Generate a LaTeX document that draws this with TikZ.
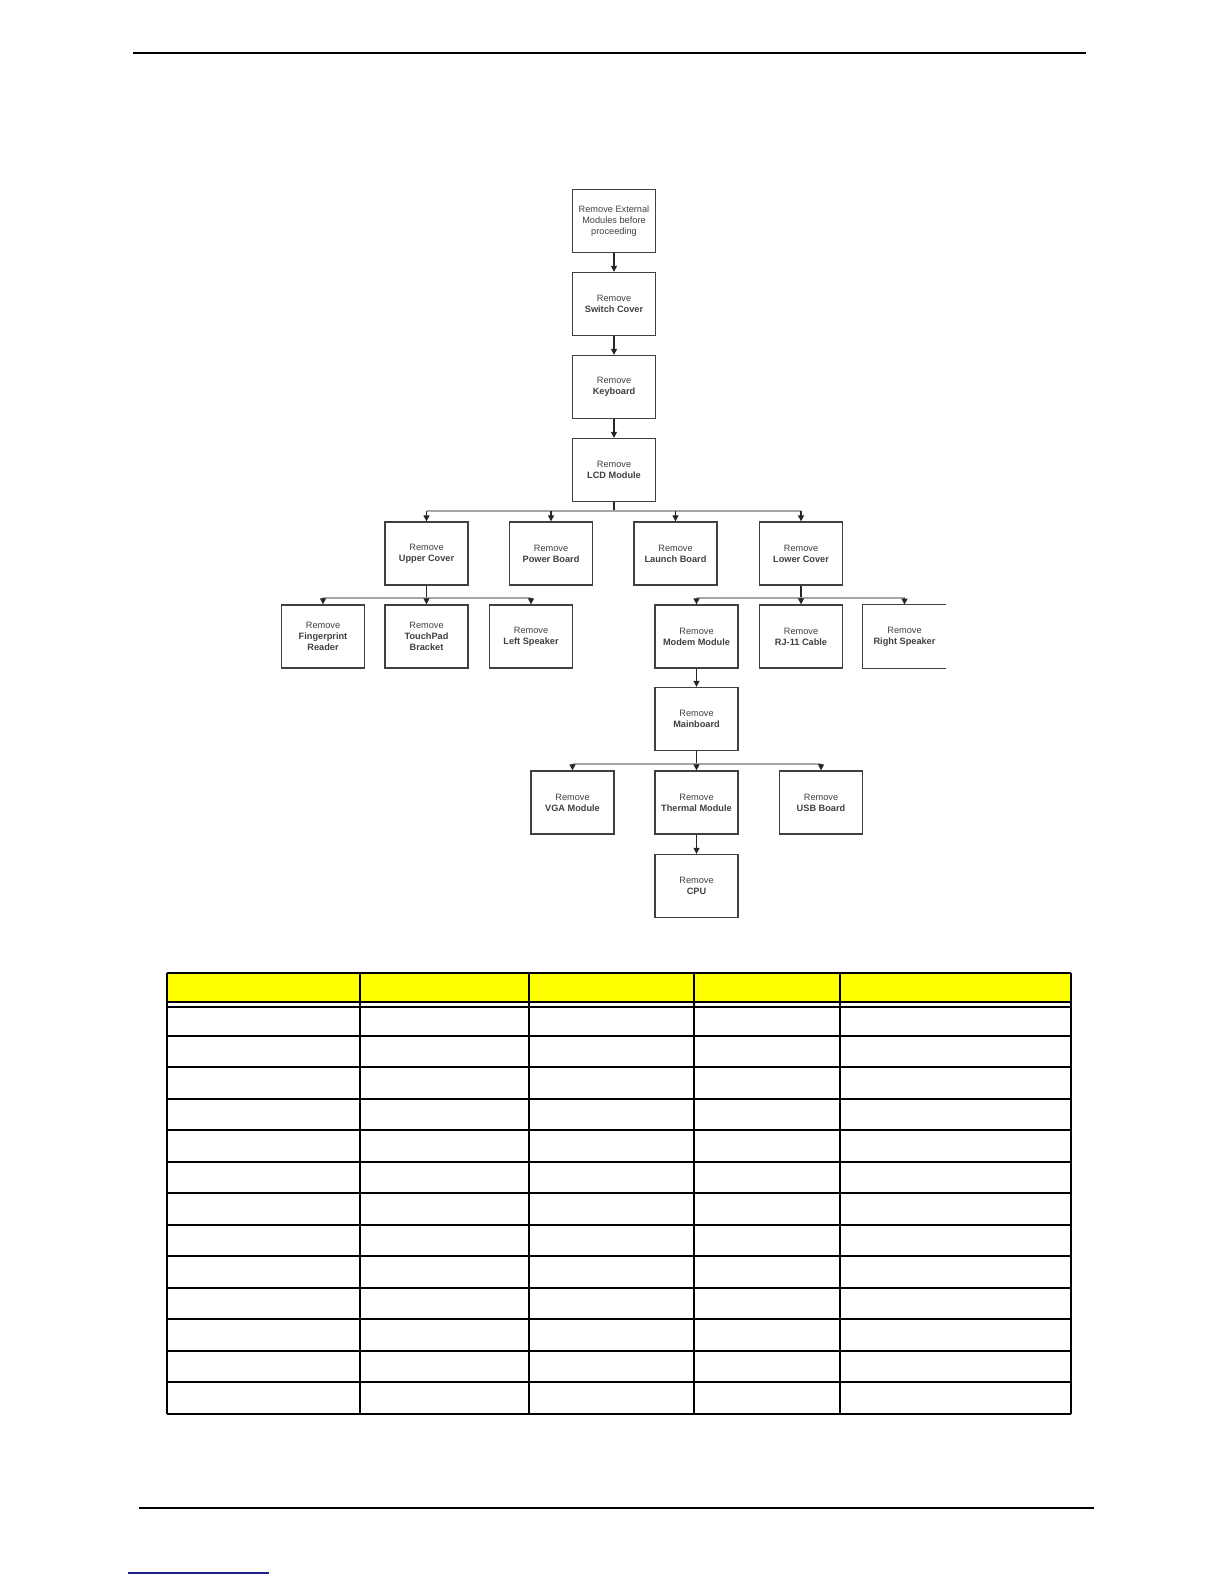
\documentclass[tikz,border=0pt]{standalone}
\usepackage{fontspec}
\setmainfont{Liberation Sans}
\usetikzlibrary{arrows.meta}
\newcommand{\boxfont}{\fontsize{4.6pt}{5.5pt}\selectfont}
\definecolor{hdryellow}{HTML}{FFFF00}
\definecolor{linkblue}{HTML}{1F1F8F}
\tikzset{
  stepbox/.style={draw=black!75, line width=0.65pt, minimum width=41.5pt, minimum height=31.5pt,
    inner sep=0pt, align=center, font=\boxfont, text=black!75},
  openbox/.style={minimum width=41.5pt, minimum height=31.5pt,
    inner sep=0pt, align=center, font=\boxfont, text=black!75},
  link/.style={draw=black!85, line width=0.6pt, -{Triangle[width=3pt,length=3pt]}},
  stem/.style={draw=black!85, line width=0.6pt},
  bus/.style={draw=black!35, line width=0.7pt},
  tbl/.style={draw=black, line width=0.8pt},
  rule/.style={draw=black, line width=0.9pt}
}
\begin{document}
\begin{tikzpicture}[x=0.5pt,y=-0.5pt]
\useasboundingbox (0,0) rectangle (1224,1584);
\fill[white] (0,0) rectangle (1224,1584);

% page rules
\draw[rule] (133,53) -- (1086,53);
\draw[rule] (139,1508) -- (1094,1508);
\draw[draw=linkblue, line width=1pt] (128,1573) -- (269,1573);

% flowchart nodes
\node[stepbox] (ext) at (614,221) {Remove External\\Modules before\\proceeding};
\node[stepbox] (switch) at (614,304) {Remove\\\textbf{Switch Cover}};
\node[stepbox] (kbd) at (614,387) {Remove\\\textbf{Keyboard}};
\node[stepbox] (lcd) at (614,470) {Remove\\\textbf{LCD Module}};

\node[stepbox] (upper) at (426.5,553.5) {Remove\\\textbf{Upper Cover}};
\node[stepbox] (power) at (551,553.5) {Remove\\\textbf{Power Board}};
\node[stepbox] (launch) at (675.5,553.5) {Remove\\\textbf{Launch Board}};
\node[stepbox] (lower) at (801,553.5) {Remove\\\textbf{Lower Cover}};

\node[stepbox] (finger) at (323,636.5) {Remove\\\textbf{Fingerprint}\\\textbf{Reader}};
\node[stepbox] (touch) at (426.5,636.5) {Remove\\\textbf{TouchPad}\\\textbf{Bracket}};
\node[stepbox] (lspk) at (531,636.5) {Remove\\\textbf{Left Speaker}};
\node[stepbox] (modem) at (696.5,636.5) {Remove\\\textbf{Modem Module}};
\node[stepbox] (rj) at (801,636.5) {Remove\\\textbf{RJ-11 Cable}};
\node[openbox] (rspk) at (904.5,636.5) {Remove\\\textbf{Right Speaker}};
\draw[draw=black!75, line width=0.65pt] (rspk.north east) -- (rspk.north west) -- (rspk.south west) -- (rspk.south east);

\node[stepbox] (main) at (696.5,719) {Remove\\\textbf{Mainboard}};
\node[stepbox] (vga) at (572.5,802.5) {Remove\\\textbf{VGA Module}};
\node[stepbox] (thermal) at (696.5,802.5) {Remove\\\textbf{Thermal Module}};
\node[stepbox] (usb) at (821,802.5) {Remove\\\textbf{USB Board}};
\node[stepbox] (cpu) at (696.5,886) {Remove\\\textbf{CPU}};

% straight links
\draw[link] (ext) -- (switch);
\draw[link] (switch) -- (kbd);
\draw[link] (kbd) -- (lcd);
\draw[link] (modem) -- (main);
\draw[link] (thermal) -- (cpu);

% bus from LCD
\coordinate (b1) at (614,511);
\draw[stem] (lcd.south) -- (b1);
\draw[bus] (upper.north |- b1) -- (lower.north |- b1);
\foreach \n in {upper,power,launch,lower}{\draw[link] (\n.north |- b1) -- (\n.north);}

% bus from Upper Cover
\coordinate (b2) at (426.5,598);
\draw[stem] (upper.south) -- (b2);
\draw[bus] (finger.north |- b2) -- (lspk.north |- b2);
\foreach \n in {finger,touch,lspk}{\draw[link] (\n.north |- b2) -- (\n.north);}

% bus from Lower Cover
\coordinate (b3) at (801,598);
\draw[stem] (lower.south) -- (b3);
\draw[bus] (modem.north |- b3) -- (rspk.north |- b3);
\foreach \n in {modem,rj,rspk}{\draw[link] (\n.north |- b3) -- (\n.north);}

% bus from Mainboard
\coordinate (b4) at (696.5,764);
\draw[stem] (main.south) -- (b4);
\draw[bus] (vga.north |- b4) -- (usb.north |- b4);
\foreach \n in {vga,thermal,usb}{\draw[link] (\n.north |- b4) -- (\n.north);}

% table
\fill[hdryellow] (167,973) rectangle (1071,1002);
\foreach \y in {973,1002,1007,1036,1067,1099,1130,1162,1193,1225,1256,1288,1319,1351,1382,1414}{
  \draw[tbl] (167,\y) -- (1071,\y);
}
\foreach \x in {167,360,529,694,840,1071}{
  \draw[tbl] (\x,973) -- (\x,1414);
}
\end{tikzpicture}
\end{document}
